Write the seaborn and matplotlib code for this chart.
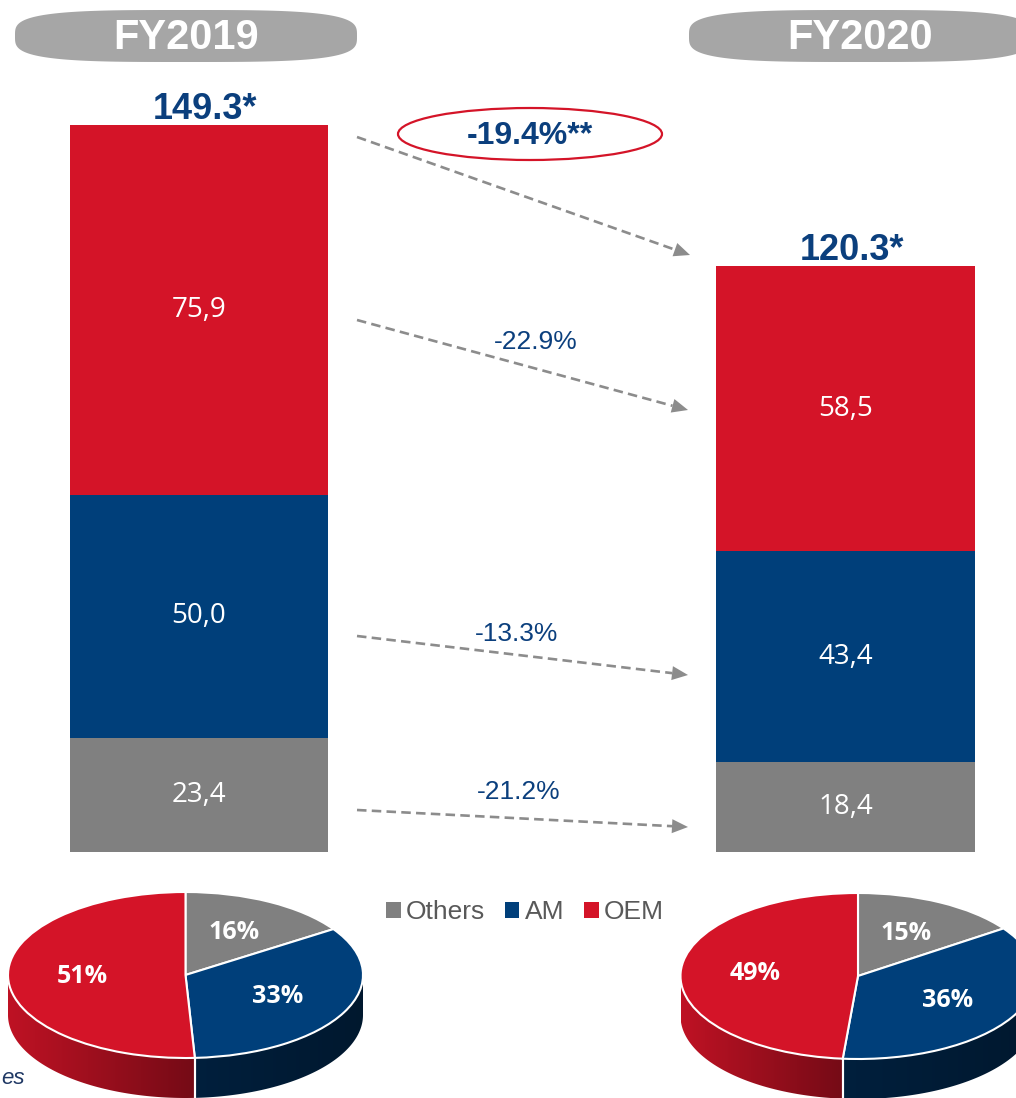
import numpy as np
import pandas as pd
import matplotlib
matplotlib.use("Agg")
import matplotlib.pyplot as plt
import seaborn as sns
from matplotlib.patches import Polygon, Ellipse
from matplotlib.colors import to_rgb

# ---- data -------------------------------------------------------------
years = ["FY2019", "FY2020"]
others = [23.4, 18.4]
am = [50.0, 43.4]
oem = [75.9, 58.5]
total_labels = ["149.3*", "120.3*"]
total_change = "-19.4%**"
segment_changes = ["-22.9%", "-13.3%", "-21.2%"]   # OEM, AM, Others
segment_names = ["Others", "AM", "OEM"]

# ---- style ------------------------------------------------------------
RED = "#D41428"
NAVY = "#003F7A"
GRAY = "#808080"
PILL = "#A6A6A6"
ARROW = "#8C8C8C"
TXT_NAVY = "#0B3F7D"

sns.set_theme(style="white")
plt.rcParams["font.family"] = ["Liberation Sans", "DejaVu Sans"]

W, H = 1016, 1098
fig = plt.figure(figsize=(W / 100, H / 100), dpi=100)

# ---- stacked bars -----------------------------------------------------
df = pd.DataFrame({"year": years, "Others": others, "AM": am, "OEM": oem})
df["lvl_others"] = df["Others"]
df["lvl_am"] = df["Others"] + df["AM"]
df["lvl_oem"] = df["Others"] + df["AM"] + df["OEM"]

ax = fig.add_axes([0, 0, 1, 1])
ax.set_zorder(1)
for col, color, name in [("lvl_oem", RED, "OEM"), ("lvl_am", NAVY, "AM"),
                         ("lvl_others", GRAY, "Others")]:
    sns.barplot(data=df, x="year", y=col, color=color, saturation=1,
                width=0.4, errorbar=None, linewidth=0, ax=ax, label=name)

# collect the layer handles for a figure-level legend, drop the axes one
handles, labels = ax.get_legend_handles_labels()
if ax.get_legend() is not None:
    ax.get_legend().remove()

px_per_unit = 727 / df["lvl_oem"].iloc[0]
ax.set_xlim(-199 / 646.5, 1 + (W - 845.5) / 646.5)
ax.set_ylim(-246 / px_per_unit, 852 / px_per_unit)
ax.axis("off")

for i, row in df.iterrows():
    bottoms = [0, row["lvl_others"], row["lvl_am"]]
    for b, name in zip(bottoms, segment_names):
        v = row[name]
        ax.text(i, b + v / 2, f"{v:.1f}".replace(".", ","), ha="center",
                va="center", color="white", fontsize=20, family="Open Sans")
    ax.text(i + 0.01, row["lvl_oem"] + 1.3, total_labels[i], ha="center",
            va="baseline", color=TXT_NAVY, fontsize=26, fontweight="bold")

order = [labels.index(n) for n in segment_names]
fig.legend([handles[k] for k in order], [labels[k] for k in order],
           loc="center", bbox_to_anchor=(525 / W, 1 - 912 / H), ncol=3,
           frameon=False, handlelength=0.55, handleheight=0.55,
           handletextpad=0.2, columnspacing=0.75, fontsize=19,
           labelcolor="#595959")

# ---- annotation layer (pixel coordinates) ------------------------------
ov = fig.add_axes([0, 0, 1, 1])
ov.set_zorder(2)
ov.set_xlim(0, W)
ov.set_ylim(H, 0)
ov.axis("off")
ov.patch.set_alpha(0)


def pill(cx, cy, a, b, n=3.5):
    t = np.linspace(0, 2 * np.pi, 300)
    x = cx + a * np.sign(np.cos(t)) * np.abs(np.cos(t)) ** (2 / n)
    y = cy + b * np.sign(np.sin(t)) * np.abs(np.sin(t)) ** (2 / n)
    ov.add_patch(Polygon(np.c_[x, y], closed=True, facecolor=PILL,
                         edgecolor="none"))


for cx, year in zip([186, 860], years):
    pill(cx, 36, 171, 26)
    ov.text(cx, 38, year, ha="center", va="center", color="white",
            fontsize=30, fontweight="bold")


def dashed_arrow(x0, y0, x1, y1):
    v = np.array([x1 - x0, y1 - y0], float)
    u = v / np.hypot(*v)
    nrm = np.array([-u[1], u[0]])
    hl, hw = 16, 7
    base = np.array([x1, y1]) - u * hl
    ov.plot([x0, base[0]], [y0, base[1]], color=ARROW, lw=1.9,
            dashes=(3.6, 2.0), solid_capstyle="butt")
    tri = np.array([[x1, y1], base + nrm * hw, base - nrm * hw])
    ov.add_patch(Polygon(tri, closed=True, facecolor=ARROW, edgecolor="none"))


arrows = [(357, 137, 690, 255), (357, 320, 688, 410),
          (357, 636, 688, 675), (357, 810, 688, 827)]
for a in arrows:
    dashed_arrow(*a)

ov.add_patch(Ellipse((530, 134), 264, 52, facecolor="white", edgecolor=RED,
                     lw=1.6))
ov.text(530, 136, total_change, ha="center", va="center", color=TXT_NAVY,
        fontsize=23, fontweight="bold")

for (x, y), lab in zip([(536, 342), (517, 634), (519, 792)], segment_changes):
    ov.text(x, y, lab, ha="center", va="center", color=TXT_NAVY, fontsize=19)

ov.text(1, 1084, "es", ha="left", va="baseline", color="#1F3864",
        fontsize=16, style="italic")

# ---- 3D-style share pies -----------------------------------------------
side_shade = {GRAY: (0.7, 0.5), NAVY: (0.5, 0.38), RED: (0.9, 0.55)}


def share_pie(values, cx, cy, rx=177.5, ry=83, depth=40):
    dd = depth / ry
    pax = fig.add_axes([(cx - rx) / W, (H - cy - ry - depth) / H,
                        2 * rx / W, (2 * ry + depth) / H])
    pax.set_zorder(3)
    cols = [GRAY, NAVY, RED]
    wedges, _, autotexts = pax.pie(
        values, colors=cols, startangle=90, counterclock=False,
        autopct=lambda p: f"{p:.0f}%", pctdistance=0.58,
        wedgeprops=dict(edgecolor="white", linewidth=1.5),
        textprops=dict(color="white", fontsize=18, fontweight="bold",
                       family="Open Sans"))
    for w in wedges:
        w.set_zorder(2)
    for t in autotexts:
        t.set_zorder(3)

    # visible front wall of every wedge
    for w, c in zip(wedges, cols):
        t1, t2 = w.theta1, w.theta2
        for k in range(-2, 3):
            lo = max(t1, 180 + 360 * k)
            hi = min(t2, 360 + 360 * k)
            if hi <= lo:
                continue
            ts = np.radians(np.linspace(lo, hi, 120))
            top = np.c_[np.cos(ts), np.sin(ts)]
            bot = np.c_[np.cos(ts), np.sin(ts) - dd][::-1]
            pts = np.vstack([top, bot])
            poly = Polygon(pts, closed=True, facecolor="none",
                           edgecolor="none", zorder=1)
            pax.add_patch(poly)
            f0, f1 = side_shade[c]
            x0, x1 = pts[:, 0].min(), pts[:, 0].max()
            img = np.linspace(f0, f1, 256)[None, :, None] * np.array(to_rgb(c))
            im = pax.imshow(img, extent=[x0, x1, pts[:, 1].min(),
                                         pts[:, 1].max()],
                            aspect="auto", zorder=1, interpolation="bilinear")
            im.set_clip_path(poly)
            for tb in (lo, hi):
                if tb % 180 != 0:
                    r = np.radians(tb)
                    pax.plot([np.cos(r)] * 2, [np.sin(r), np.sin(r) - dd],
                             color="white", lw=1.5, zorder=1.5)
    pax.set_xlim(-1, 1)
    pax.set_ylim(-1 - dd, 1)
    pax.set_aspect("auto")
    pax.axis("off")


share_pie([others[0], am[0], oem[0]], 185.5, 975)
share_pie([others[1], am[1], oem[1]], 858, 976)

fig.savefig("out.png", dpi=100)
